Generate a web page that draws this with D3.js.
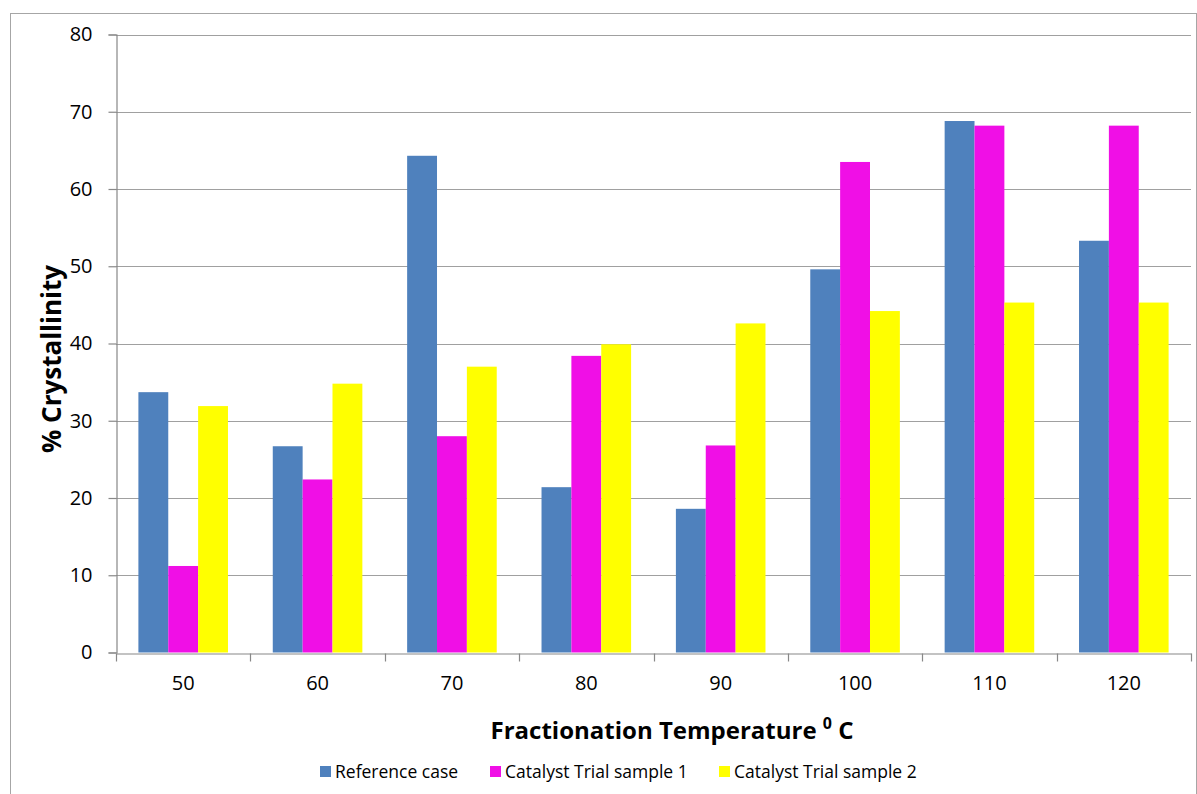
<!DOCTYPE html>
<html>
<head>
<meta charset="utf-8">
<script src="https://cdn.jsdelivr.net/npm/d3@7"></script>
<style>
  html, body { margin: 0; padding: 0; background: #fff; }
  svg { display: block; }
  text { font-family: "Open Sans", "Noto Sans", sans-serif; fill: #000; }
</style>
</head>
<body>
<svg id="chart" width="1197" height="794"></svg>
<script>
const categories = ["50", "60", "70", "80", "90", "100", "110", "120"];
const seriesNames = ["Reference case", "Catalyst Trial sample 1", "Catalyst Trial sample 2"];
const referenceCase = [33.7, 26.7, 64.3, 21.4, 18.6, 49.6, 68.8, 53.3];
const trialSample1 = [11.2, 22.4, 28.0, 38.4, 26.8, 63.5, 68.2, 68.2];
const trialSample2 = [31.9, 34.8, 37.0, 39.9, 42.6, 44.2, 45.3, 45.3];
const yTicks = [0, 10, 20, 30, 40, 50, 60, 70, 80];
const colors = ["#4F81BD", "#F00FE6", "#FFFF00"];

const seriesValues = [referenceCase, trialSample1, trialSample2];

const svg = d3.select("#chart");
const pLeft = 116, pRight = 1191, pTop = 34.5, pBottom = 652.5;

// outer border
svg.append("rect")
  .attr("x", 10.5).attr("y", 13.5).attr("width", 1186).attr("height", 800)
  .attr("fill", "none").attr("stroke", "#a6a6a6").attr("stroke-width", 1);

const x0 = d3.scaleBand().domain(categories).range([pLeft, pRight]).paddingInner(0).paddingOuter(0);
const x1 = d3.scaleBand().domain(seriesNames).range([0, x0.bandwidth()]).paddingInner(0).paddingOuter(0.75);
const y = d3.scaleLinear().domain([0, 80]).range([pBottom, pTop]);

// gridlines
svg.append("g").selectAll("line").data(yTicks.filter(d => d > 0)).join("line")
  .attr("x1", pLeft).attr("x2", pRight)
  .attr("y1", d => Math.round(y(d)) + 0.5).attr("y2", d => Math.round(y(d)) + 0.5)
  .attr("stroke", "#a0a0a0").attr("stroke-width", 1.2);

// bars
const groups = svg.append("g").selectAll("g").data(categories).join("g")
  .attr("transform", c => `translate(${x0(c)},0)`);
groups.selectAll("rect")
  .data((c, i) => seriesNames.map((s, j) => ({ s, j, v: seriesValues[j][i] })))
  .join("rect")
  .attr("x", d => x1(d.s))
  .attr("width", x1.bandwidth())
  .attr("y", d => y(d.v))
  .attr("height", d => y(0) - y(d.v))
  .attr("fill", d => colors[d.j]);

// y axis
const yAxis = d3.axisLeft(y).tickValues(yTicks).tickSize(8).tickPadding(16).tickFormat(d3.format("d"));
const gy = svg.append("g").attr("transform", `translate(${pLeft + 0.5},0)`).call(yAxis);
gy.select(".domain").attr("stroke", "#888").attr("stroke-width", 1.2);
gy.selectAll(".tick line").attr("stroke", "#888").attr("stroke-width", 1.2);
gy.selectAll(".tick text").style("font-size", "20px").style("font-family", '"Open Sans", sans-serif').attr("fill", "#000");

// x axis
const xAxis = d3.axisBottom(x0).tickSize(0).tickPadding(22);
const gx = svg.append("g").attr("transform", `translate(0,${Math.round(pBottom) + 0.5})`).call(xAxis);
gx.select(".domain").attr("stroke", "#888").attr("stroke-width", 1.2);
gx.selectAll(".tick text").style("font-size", "20px").style("font-family", '"Open Sans", sans-serif').attr("fill", "#000");
// band boundary ticks
const boundaries = categories.map(c => x0(c)).concat([pRight]);
gx.append("g").selectAll("line").data(boundaries).join("line")
  .attr("x1", d => Math.round(d) + 0.5).attr("x2", d => Math.round(d) + 0.5)
  .attr("y1", 0).attr("y2", 8).attr("stroke", "#888").attr("stroke-width", 1.2);

// axis titles
const xt = svg.append("text")
  .attr("x", 672).attr("y", 739).attr("text-anchor", "middle")
  .style("font-size", "24px").style("font-weight", "bold");
xt.append("tspan").text("Fractionation Temperature ");
xt.append("tspan").text("0").style("font-size", "16px").attr("dy", -10);
xt.append("tspan").text(" C").attr("dy", 10);

svg.append("text")
  .attr("transform", "translate(61,359) rotate(-90)")
  .attr("text-anchor", "middle")
  .style("font-size", "26px").style("font-weight", "bold")
  .text("% Crystallinity");

// legend
const legendX = [320, 490, 719];
const lg = svg.append("g").selectAll("g").data(seriesNames).join("g")
  .attr("transform", (d, i) => `translate(${legendX[i]},766)`);
lg.append("rect").attr("width", 11).attr("height", 11).attr("fill", (d, i) => colors[i]);
lg.append("text").attr("x", 15).attr("y", 12).style("font-size", "17.5px").text(d => d);
</script>
</body>
</html>
